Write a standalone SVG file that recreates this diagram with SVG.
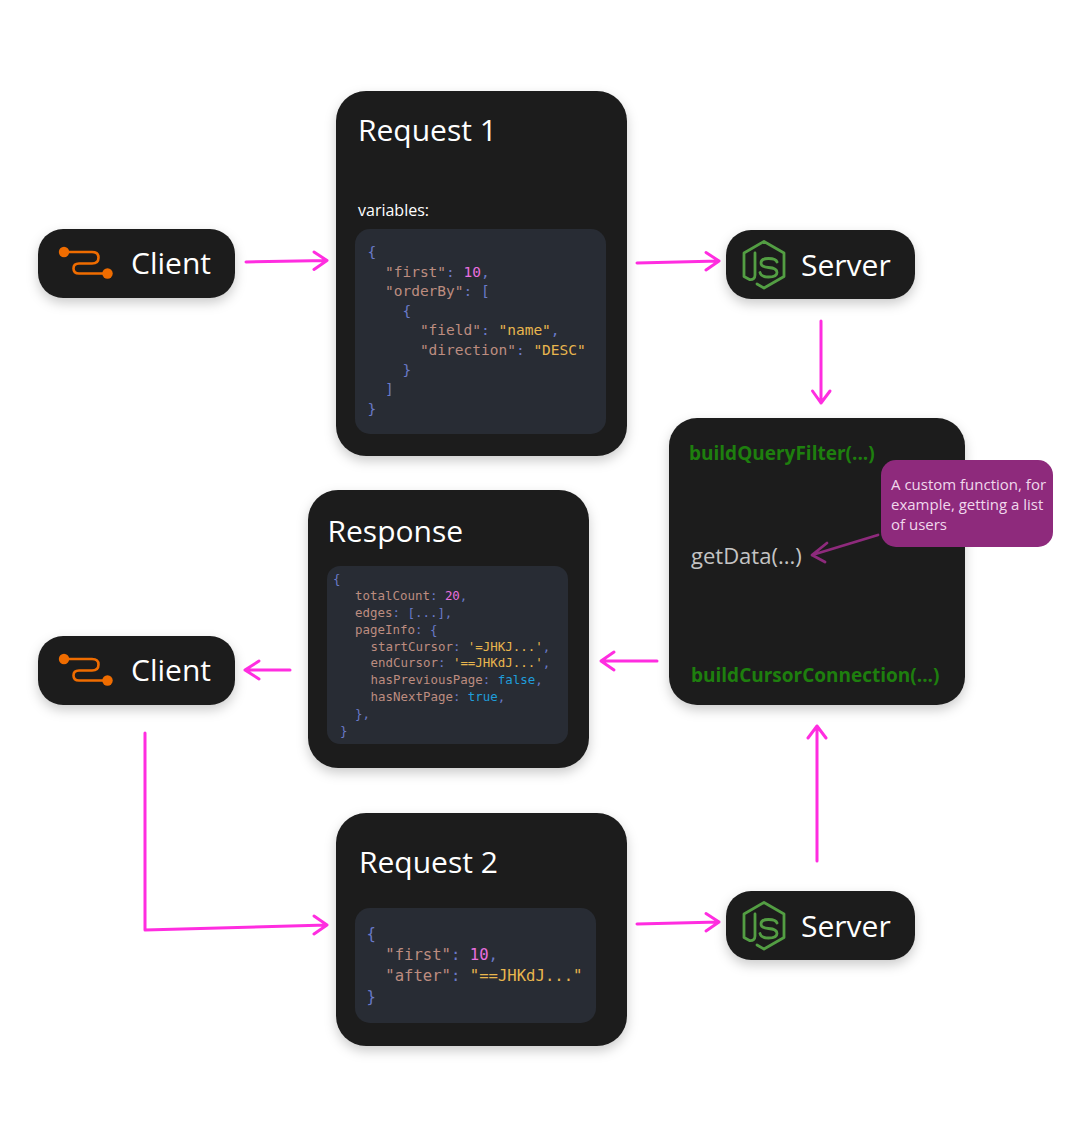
<svg xmlns="http://www.w3.org/2000/svg" width="1090" height="1132" viewBox="0 0 1090 1132">
<style>
.sans{font-family:"Open Sans","Liberation Sans",sans-serif}
.t{fill:#fff}
.mono{font-family:"DejaVu Sans Mono","Liberation Mono",monospace;white-space:pre}
.p{fill:#6a7ac8}.k{fill:#bd8d80}.n{fill:#e86fdf}.s{fill:#e8b64e}.b{fill:#1f9ddb}
.node{fill:#1e1e1e;filter:url(#sh)}
.code{fill:#282c34}
.con{fill:none;stroke:#ff2de0;stroke-width:3;stroke-linecap:round;stroke-linejoin:round}
.grn{fill:#1e7f0e;font-weight:700;font-size:19px}
.njs{fill:none;stroke:#539e43;stroke-width:2.8;stroke-linejoin:round;stroke-linecap:round}
</style>
<defs>
<filter id="sh" x="-20%" y="-20%" width="140%" height="150%"><feDropShadow dx="0" dy="5" stdDeviation="6" flood-color="#000" flood-opacity="0.2"/></filter>
<g id="orange">
<path d="M64 252H92Q98.500 252 98.500 257.500Q98.500 263.500 92 263.500H79Q73.500 263.500 73.500 268.500Q73.500 273.500 79 273.500H107" fill="none" stroke="#ef6c00" stroke-width="2.600"/>
<circle cx="64" cy="252" r="5.200" fill="#ef6c00"/><circle cx="107.500" cy="273.500" r="5.200" fill="#ef6c00"/>
</g>
<g id="njs">
<path class="njs" d="M757 284L764 288 784 276.500V253L764 241.500 744 253V276.500L749.500 279.500Q755 280 755 275V253"/>
<path class="njs" d="M777 262Q776 258.500 768.500 258.500Q761 258.500 761 263Q761 267 768.500 267.500Q777 268 777 272.500Q777 277 768.500 277Q761 277 760 272.500" stroke-width="3.200"/>
</g>
</defs>

<g id="connectors">
<path class="con" d="M246 262L327 260.500M314 252L327 260.500 314 269.500"/>
<path class="con" d="M637 263L719 261M706 252.500L719 261 706 270"/>
<path class="con" d="M821 321V403M812.500 391L821 403 830 391"/>
<path class="con" d="M657 661H601M614 652L601 661 614 670"/>
<path class="con" d="M290 670H245M259 661L245 670 259 679"/>
<path class="con" d="M145 733V930L327 925M314 916L327 925 314 934"/>
<path class="con" d="M637 924L719 922M706 913.500L719 922 706 931"/>
<path class="con" d="M817 861V726M808 738L817 726 826 738"/>
</g>

<g id="client-1">
<rect class="node" x="38" y="229" width="197" height="69" rx="25"/>
<use href="#orange"/>
<text class="sans t" x="131" y="274" font-size="30">Client</text>
</g>

<g id="request-1">
<rect class="node" x="336" y="91" width="291" height="365" rx="30"/>
<text class="sans t" x="358" y="141" font-size="30">Request 1</text>
<text class="sans t" x="358" y="216" font-size="16">variables:</text>
<rect class="code" x="355" y="229" width="251" height="205" rx="15"/>
<g class="mono" font-size="14.500px">
<text class="p" x="367.500" y="257">{</text>
<text x="367.500" y="276.600" xml:space="preserve"><tspan class="k">  "first"</tspan><tspan class="p">: </tspan><tspan class="n">10</tspan><tspan class="p">,</tspan></text>
<text x="367.500" y="296.200" xml:space="preserve"><tspan class="k">  "orderBy"</tspan><tspan class="p">: [</tspan></text>
<text class="p" x="367.500" y="315.800" xml:space="preserve">    {</text>
<text x="367.500" y="335.400" xml:space="preserve"><tspan class="k">      "field"</tspan><tspan class="p">: </tspan><tspan class="s">"name"</tspan><tspan class="p">,</tspan></text>
<text x="367.500" y="355" xml:space="preserve"><tspan class="k">      "direction"</tspan><tspan class="p">: </tspan><tspan class="s">"DESC"</tspan></text>
<text class="p" x="367.500" y="374.600" xml:space="preserve">    }</text>
<text class="p" x="367.500" y="394.200" xml:space="preserve">  ]</text>
<text class="p" x="367.500" y="413.800">}</text>
</g>
</g>

<g id="server-1">
<rect class="node" x="726" y="230" width="189" height="69" rx="25"/>
<use href="#njs"/>
<text class="sans t" x="801" y="276" font-size="30">Server</text>
</g>

<g id="functions">
<rect class="node" x="669" y="418" width="296" height="287" rx="28"/>
<text class="sans grn" x="689" y="460">buildQueryFilter(...)</text>
<text class="sans" x="691" y="564" font-size="22px" fill="#c4c4c4">getData(...)</text>
<text class="sans grn" x="691" y="681.500">buildCursorConnection(...)</text>
</g>

<g id="note">
<path d="M878 535L812 555M827 543L812 555 825 562" fill="none" stroke="#8e2a7c" stroke-width="2.800" stroke-linecap="round" stroke-linejoin="round"/>
<rect x="881" y="460" width="172" height="87" rx="15" fill="#8e2a7c"/>
<g class="sans" font-size="15px" fill="#f0d8ec">
<text x="891" y="490">A custom function, for</text>
<text x="891" y="510">example, getting a list</text>
<text x="891" y="530">of users</text>
</g>
</g>

<g id="response">
<rect class="node" x="308" y="490" width="281" height="278" rx="30"/>
<text class="sans t" x="327.500" y="542" font-size="30">Response</text>
<rect class="code" x="327" y="566" width="241" height="178" rx="13"/>
<g class="mono" font-size="12.450px">
<text class="p" x="333" y="583">{</text>
<text x="355" y="600" xml:space="preserve"><tspan class="k">totalCount</tspan><tspan class="p">: </tspan><tspan class="n">20</tspan><tspan class="p">,</tspan></text>
<text x="355" y="617" xml:space="preserve"><tspan class="k">edges</tspan><tspan class="p">: [...],</tspan></text>
<text x="355" y="634" xml:space="preserve"><tspan class="k">pageInfo</tspan><tspan class="p">: {</tspan></text>
<text x="370.500" y="651" xml:space="preserve"><tspan class="k">startCursor</tspan><tspan class="p">: </tspan><tspan class="s">'=JHKJ...'</tspan><tspan class="p">,</tspan></text>
<text x="370.500" y="667" xml:space="preserve"><tspan class="k">endCursor</tspan><tspan class="p">: </tspan><tspan class="s">'==JHKdJ...'</tspan><tspan class="p">,</tspan></text>
<text x="370.500" y="684" xml:space="preserve"><tspan class="k">hasPreviousPage</tspan><tspan class="p">: </tspan><tspan class="b">false</tspan><tspan class="p">,</tspan></text>
<text x="370.500" y="701" xml:space="preserve"><tspan class="k">hasNextPage</tspan><tspan class="p">: </tspan><tspan class="b">true</tspan><tspan class="p">,</tspan></text>
<text class="p" x="355" y="718">},</text>
<text class="p" x="340" y="735">}</text>
</g>
</g>

<g id="client-2">
<rect class="node" x="38" y="636" width="197" height="69" rx="25"/>
<use href="#orange" y="407"/>
<text class="sans t" x="131" y="681" font-size="30">Client</text>
</g>

<g id="request-2">
<rect class="node" x="336" y="813" width="291" height="233" rx="30"/>
<text class="sans t" x="359" y="873" font-size="30">Request 2</text>
<rect class="code" x="355" y="908" width="241" height="115" rx="15"/>
<g class="mono" font-size="15.600px">
<text class="p" x="366.500" y="939">{</text>
<text x="366.500" y="960" xml:space="preserve"><tspan class="k">  "first"</tspan><tspan class="p">: </tspan><tspan class="n">10</tspan><tspan class="p">,</tspan></text>
<text x="366.500" y="981" xml:space="preserve"><tspan class="k">  "after"</tspan><tspan class="p">: </tspan><tspan class="s">"==JHKdJ..."</tspan></text>
<text class="p" x="366.500" y="1002">}</text>
</g>
</g>

<g id="server-2">
<rect class="node" x="726" y="891" width="189" height="69" rx="25"/>
<use href="#njs" y="661"/>
<text class="sans t" x="801" y="937" font-size="30">Server</text>
</g>
</svg>
